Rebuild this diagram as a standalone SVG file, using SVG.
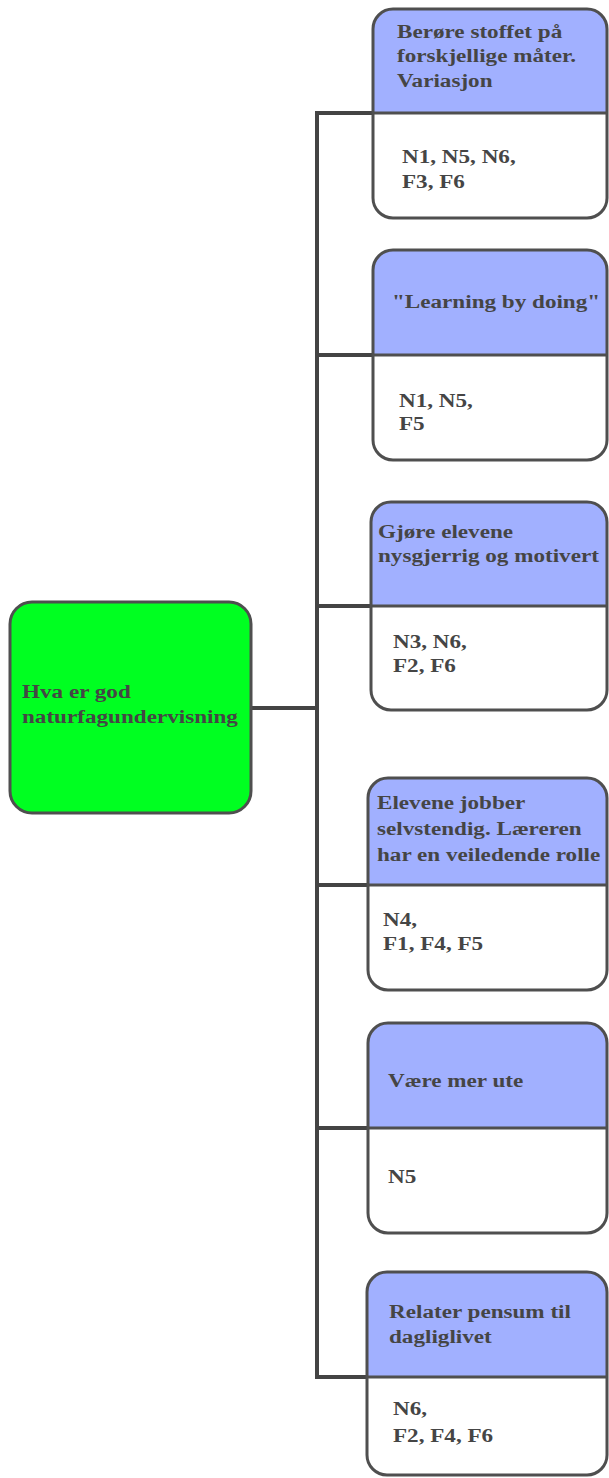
<svg xmlns="http://www.w3.org/2000/svg" width="609" height="1478" viewBox="0 0 609 1478">
  <style>
    .t { font-family: "Liberation Serif", "Times New Roman", serif; font-weight: bold; font-size: 18.5px; fill: #454545; }
    .bd { fill: #ffffff; }
    .hd { fill: #a1b0ff; }
    .ol { fill: none; stroke: #4f4f4f; stroke-width: 3; }
    .dv { stroke: #4f4f4f; stroke-width: 3; }
    .cn { stroke: #444444; stroke-width: 4; fill: none; stroke-linecap: square; }
  </style>

  <!-- connectors -->
  <g id="connectors">
    <line class="cn" x1="251" y1="708" x2="317" y2="708"/>
    <line class="cn" x1="317" y1="113" x2="317" y2="1377"/>
    <line class="cn" x1="317" y1="113" x2="372" y2="113"/>
    <line class="cn" x1="317" y1="355" x2="372" y2="355"/>
    <line class="cn" x1="317" y1="606" x2="370" y2="606"/>
    <line class="cn" x1="317" y1="885" x2="367" y2="885"/>
    <line class="cn" x1="317" y1="1128" x2="367" y2="1128"/>
    <line class="cn" x1="317" y1="1377" x2="366" y2="1377"/>
  </g>

  <!-- root topic -->
  <g id="root">
    <rect x="10" y="602" width="241" height="211" rx="22" fill="#00ff21" stroke="#4f4f4f" stroke-width="3"/>
    <text class="t" transform="translate(22 0) scale(1.25 1)"><tspan x="0" y="698">Hva er god</tspan><tspan x="0" y="723">naturfagundervisning</tspan></text>
  </g>

  <!-- branch 1 -->
  <g id="n1">
    <rect class="bd" x="373" y="9" width="234" height="209" rx="20"/>
    <path class="hd" d="M373,113 V29 A20,20 0 0 1 393,9 H587 A20,20 0 0 1 607,29 V113 Z"/>
    <line class="dv" x1="373" y1="113" x2="607" y2="113"/>
    <rect class="ol" x="373" y="9" width="234" height="209" rx="20"/>
    <text class="t" transform="translate(397 0) scale(1.25 1)"><tspan x="0" y="38">Berøre stoffet på</tspan><tspan x="0" y="62">forskjellige måter.</tspan><tspan x="0" y="87">Variasjon</tspan></text>
    <text class="t" transform="translate(402 0) scale(1.25 1)"><tspan x="0" y="163">N1, N5, N6,</tspan><tspan x="0" y="188">F3, F6</tspan></text>
  </g>

  <!-- branch 2 -->
  <g id="n2">
    <rect class="bd" x="373" y="250" width="234" height="210" rx="20"/>
    <path class="hd" d="M373,355 V270 A20,20 0 0 1 393,250 H587 A20,20 0 0 1 607,270 V355 Z"/>
    <line class="dv" x1="373" y1="355" x2="607" y2="355"/>
    <rect class="ol" x="373" y="250" width="234" height="210" rx="20"/>
    <text class="t" transform="translate(392 0) scale(1.25 1)"><tspan x="0" y="308">"Learning by doing"</tspan></text>
    <text class="t" transform="translate(399 0) scale(1.25 1)"><tspan x="0" y="407">N1, N5,</tspan><tspan x="0" y="430">F5</tspan></text>
  </g>

  <!-- branch 3 -->
  <g id="n3">
    <rect class="bd" x="371" y="502" width="236" height="208" rx="20"/>
    <path class="hd" d="M371,606 V522 A20,20 0 0 1 391,502 H587 A20,20 0 0 1 607,522 V606 Z"/>
    <line class="dv" x1="371" y1="606" x2="607" y2="606"/>
    <rect class="ol" x="371" y="502" width="236" height="208" rx="20"/>
    <text class="t" transform="translate(378 0) scale(1.25 1)"><tspan x="0" y="538">Gjøre elevene</tspan><tspan x="0" y="562">nysgjerrig og motivert</tspan></text>
    <text class="t" transform="translate(393 0) scale(1.25 1)"><tspan x="0" y="648">N3, N6,</tspan><tspan x="0" y="672">F2, F6</tspan></text>
  </g>

  <!-- branch 4 -->
  <g id="n4">
    <rect class="bd" x="368" y="778" width="239" height="212" rx="20"/>
    <path class="hd" d="M368,885 V798 A20,20 0 0 1 388,778 H587 A20,20 0 0 1 607,798 V885 Z"/>
    <line class="dv" x1="368" y1="885" x2="607" y2="885"/>
    <rect class="ol" x="368" y="778" width="239" height="212" rx="20"/>
    <text class="t" transform="translate(377 0) scale(1.25 1)"><tspan x="0" y="809">Elevene jobber</tspan><tspan x="0" y="835">selvstendig. Læreren</tspan><tspan x="0" y="861">har en veiledende rolle</tspan></text>
    <text class="t" transform="translate(383 0) scale(1.25 1)"><tspan x="0" y="926">N4,</tspan><tspan x="0" y="950">F1, F4, F5</tspan></text>
  </g>

  <!-- branch 5 -->
  <g id="n5">
    <rect class="bd" x="368" y="1023" width="239" height="210" rx="20"/>
    <path class="hd" d="M368,1128 V1043 A20,20 0 0 1 388,1023 H587 A20,20 0 0 1 607,1043 V1128 Z"/>
    <line class="dv" x1="368" y1="1128" x2="607" y2="1128"/>
    <rect class="ol" x="368" y="1023" width="239" height="210" rx="20"/>
    <text class="t" transform="translate(388 0) scale(1.25 1)"><tspan x="0" y="1087">Være mer ute</tspan></text>
    <text class="t" transform="translate(388 0) scale(1.25 1)"><tspan x="0" y="1183">N5</tspan></text>
  </g>

  <!-- branch 6 -->
  <g id="n6">
    <rect class="bd" x="367" y="1272" width="240" height="203" rx="20"/>
    <path class="hd" d="M367,1377 V1292 A20,20 0 0 1 387,1272 H587 A20,20 0 0 1 607,1292 V1377 Z"/>
    <line class="dv" x1="367" y1="1377" x2="607" y2="1377"/>
    <rect class="ol" x="367" y="1272" width="240" height="203" rx="20"/>
    <text class="t" transform="translate(389 0) scale(1.25 1)"><tspan x="0" y="1318">Relater pensum til</tspan><tspan x="0" y="1343">dagliglivet</tspan></text>
    <text class="t" transform="translate(393 0) scale(1.25 1)"><tspan x="0" y="1415">N6,</tspan><tspan x="0" y="1442">F2, F4, F6</tspan></text>
  </g>
</svg>
